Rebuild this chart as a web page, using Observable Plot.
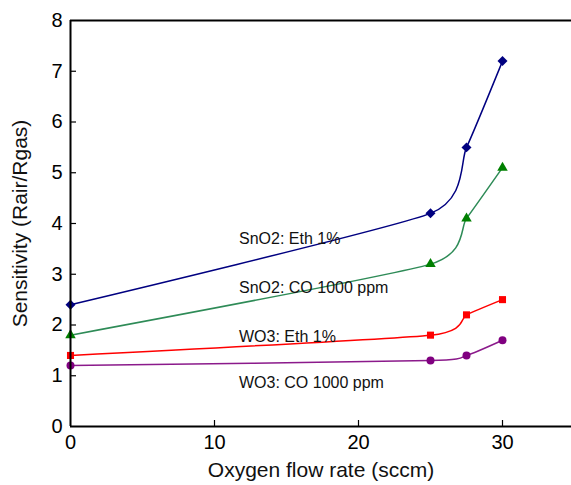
<!DOCTYPE html>
<html>
<head>
<meta charset="utf-8">
<script src="https://cdn.jsdelivr.net/npm/d3@7"></script>
<script src="https://cdn.jsdelivr.net/npm/@observablehq/plot@0.6"></script>
<style>
  body { margin: 0; background: white; }
  #chart { width: 571px; height: 485px; overflow: hidden; }
</style>
</head>
<body>
<div id="chart"></div>
<script>
const oxygen = [0, 25, 27.5, 30];
const sno2Eth = [2.4, 4.2, 5.5, 7.2];
const sno2CO = [1.8, 3.2, 4.1, 5.1];
const wo3Eth = [1.4, 1.8, 2.2, 2.5];
const wo3CO = [1.2, 1.3, 1.4, 1.7];
const seriesNames = ["SnO2: Eth 1%", "SnO2: CO 1000 ppm", "WO3: Eth 1%", "WO3: CO 1000 ppm"];
const labelX = [11.7, 11.7, 11.7, 11.7];
const labelY = [3.7, 2.74, 1.77, 0.85];
const xTicks = [0, 10, 20, 30];
const yTicks = [0, 1, 2, 3, 4, 5, 6, 7, 8];
const xTitle = "Oxygen flow rate (sccm)";
const yTitle = "Sensitivity (Rair/Rgas)";

const styles = [
  {line: "#000080", fill: "#000080", symbol: "diamond2", r: 4.5},
  {line: "#2e8b57", fill: "#008000", symbol: "triangle2", r: 5},
  {line: "#ff0000", fill: "#ff0000", symbol: "square2", r: 4.5},
  {line: "#8b1a8b", fill: "#800080", symbol: "circle", r: 4}
];
const allValues = [sno2Eth, sno2CO, wo3Eth, wo3CO];
const series = allValues.map((vals, i) => oxygen.map((x, j) => ({x, y: vals[j], s: i})));
const labels = seriesNames.map((name, i) => ({name, x: labelX[i], y: labelY[i]}));

const font = "Liberation Sans, Arial, Helvetica, sans-serif";

const marks = [];
series.forEach((data, i) => {
  marks.push(Plot.line(data, {x: "x", y: "y", stroke: styles[i].line, strokeWidth: 1.5, curve: "cardinal", tension: 0.45}));
});
series.forEach((data, i) => {
  marks.push(Plot.dot(data, {x: "x", y: "y", fill: styles[i].fill, stroke: "none", symbol: styles[i].symbol, r: styles[i].r}));
});
marks.push(Plot.text(labels, {x: "x", y: "y", text: "name", textAnchor: "start", fontSize: 16, fill: "#111"}));
marks.push(Plot.tickY(yTicks.slice(1, -1), {y: d => d, insetRight: 495, stroke: "black", strokeWidth: 1.2}));
marks.push(Plot.tickX(xTicks.slice(1), {x: d => d, insetTop: 400, stroke: "black", strokeWidth: 1.2}));
marks.push(Plot.ruleX([0], {stroke: "black", strokeWidth: 2}));
marks.push(Plot.ruleY([0, 8], {stroke: "black", strokeWidth: 2}));
marks.push(Plot.axisX(xTicks, {tickSize: 0, tickPadding: 8, fontSize: 20, tickFormat: d3.format("d"), label: null}));
marks.push(Plot.axisY(yTicks, {tickSize: 0, tickPadding: 8, fontSize: 20, tickFormat: d3.format("d"), label: null}));
marks.push(Plot.text([xTitle], {frameAnchor: "bottom", textAnchor: "middle", lineAnchor: "middle", dy: 44, fontSize: 21, text: d => d, fill: "#111"}));
marks.push(Plot.text([yTitle], {frameAnchor: "left", textAnchor: "middle", lineAnchor: "middle", rotate: -90, dx: -50, fontSize: 21, text: d => d, fill: "#111"}));

const chart = Plot.plot({
  width: 571,
  height: 485,
  marginLeft: 70,
  marginRight: 0,
  marginTop: 20,
  marginBottom: 59,
  style: {fontFamily: font, background: "white", color: "black"},
  x: {domain: [0, 35], range: [70, 574]},
  y: {domain: [0, 8]},
  marks
});
document.getElementById("chart").append(chart);
</script>
</body>
</html>
